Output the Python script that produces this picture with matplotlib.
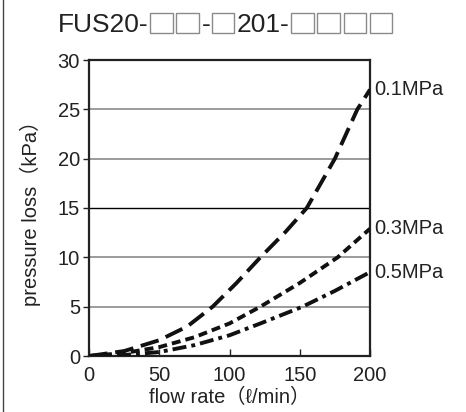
import matplotlib
matplotlib.use("Agg")
import matplotlib.pyplot as plt
from matplotlib.lines import Line2D
from matplotlib.patches import Rectangle

plt.rcParams["font.family"] = ["Liberation Sans", "Noto Sans CJK JP", "DejaVu Sans"]

# curves: flow rate (l/min) -> pressure loss (kPa)
flow_01 = [0, 25, 50, 70, 88, 105, 122, 140, 155, 175, 191, 200]
loss_01 = [0, 0.5, 1.6, 3.0, 5.0, 7.4, 10.0, 12.6, 15.0, 20.0, 25.0, 27.0]
flow_03 = [0, 25, 50, 75, 100, 122, 150, 177, 200]
loss_03 = [0, 0.3, 0.9, 1.9, 3.3, 5.0, 7.4, 10.0, 12.9]
flow_05 = [0, 25, 50, 75, 100, 122, 152, 175, 200]
loss_05 = [0, 0.1, 0.4, 1.1, 2.1, 3.3, 5.0, 6.6, 8.5]
labels = ["0.1MPa", "0.3MPa", "0.5MPa"]
# title: text pieces and number of blank boxes
title_parts = ["FUS20-", 2, "-", 1, "201-", 4]

W, H = 466, 412
fig = plt.figure(figsize=(W / 100, H / 100), dpi=100)
ax = fig.add_axes([89 / W, 1 - 356 / H, 281 / W, 296 / H])

for v in [5, 10, 20, 25]:
    ax.axhline(v, color="#8a8a8a", lw=1.2, zorder=1)
ax.axhline(15, color="black", lw=1.0, zorder=1)

ax.plot(flow_01, loss_01, color="#111111", lw=2.8, dashes=(4.8, 2.0), zorder=3)
ax.plot(flow_03, loss_03, color="#111111", lw=2.8, dashes=(2.3, 1.3), zorder=3)
ax.plot(flow_05, loss_05, color="#111111", lw=2.8, dashes=(3.6, 1.3, 1.0, 1.3), zorder=3)

ends = [loss_01[-1], loss_03[-1], loss_05[-1]]
for lab, y in zip(labels, ends):
    ax.text(1.015, y, lab, transform=ax.get_yaxis_transform(), fontsize=14.5,
            va="center", ha="left", color="#222222")

ax.set_xlim(0, 200)
ax.set_ylim(0, 30)
ax.set_xticks([0, 50, 100, 150, 200])
ax.set_yticks([0, 5, 10, 15, 20, 25, 30])
ax.tick_params(axis="x", direction="in", length=5, width=1, labelsize=14.5,
               pad=7, colors="#222222")
ax.tick_params(axis="y", direction="out", length=4, width=1, labelsize=14.5,
               pad=2.5, colors="#222222")
for s in ax.spines.values():
    s.set_linewidth(1.6)
    s.set_color("#222222")

ax.set_xlabel("flow rate（ℓ/min）", fontsize=14.5, labelpad=2, color="#222222")
ax.set_ylabel("pressure loss（kPa）", fontsize=14.5, labelpad=12, color="#222222")

# title with grey boxes, laid out piece by piece in pixels
renderer = fig.canvas.get_renderer()
x = 58
base = 32.5
for part in title_parts:
    if isinstance(part, str):
        t = fig.text(x / W, 1 - base / H, part, fontsize=19, ha="left",
                     va="baseline", color="#222222")
        x += t.get_window_extent(renderer).width
    else:
        for i in range(part):
            fig.add_artist(Rectangle(((x + 1.5) / W, 1 - base / H), 22.5 / W, 20 / H,
                                     transform=fig.transFigure, fill=False,
                                     edgecolor="#8a8a8a", lw=1.0))
            x += 26.2
        x += 0.5

fig.add_artist(Line2D([2.5 / W, 2.5 / W], [0, 1], color="#444444", lw=1,
                      transform=fig.transFigure))

fig.savefig("out.png", dpi=100)
